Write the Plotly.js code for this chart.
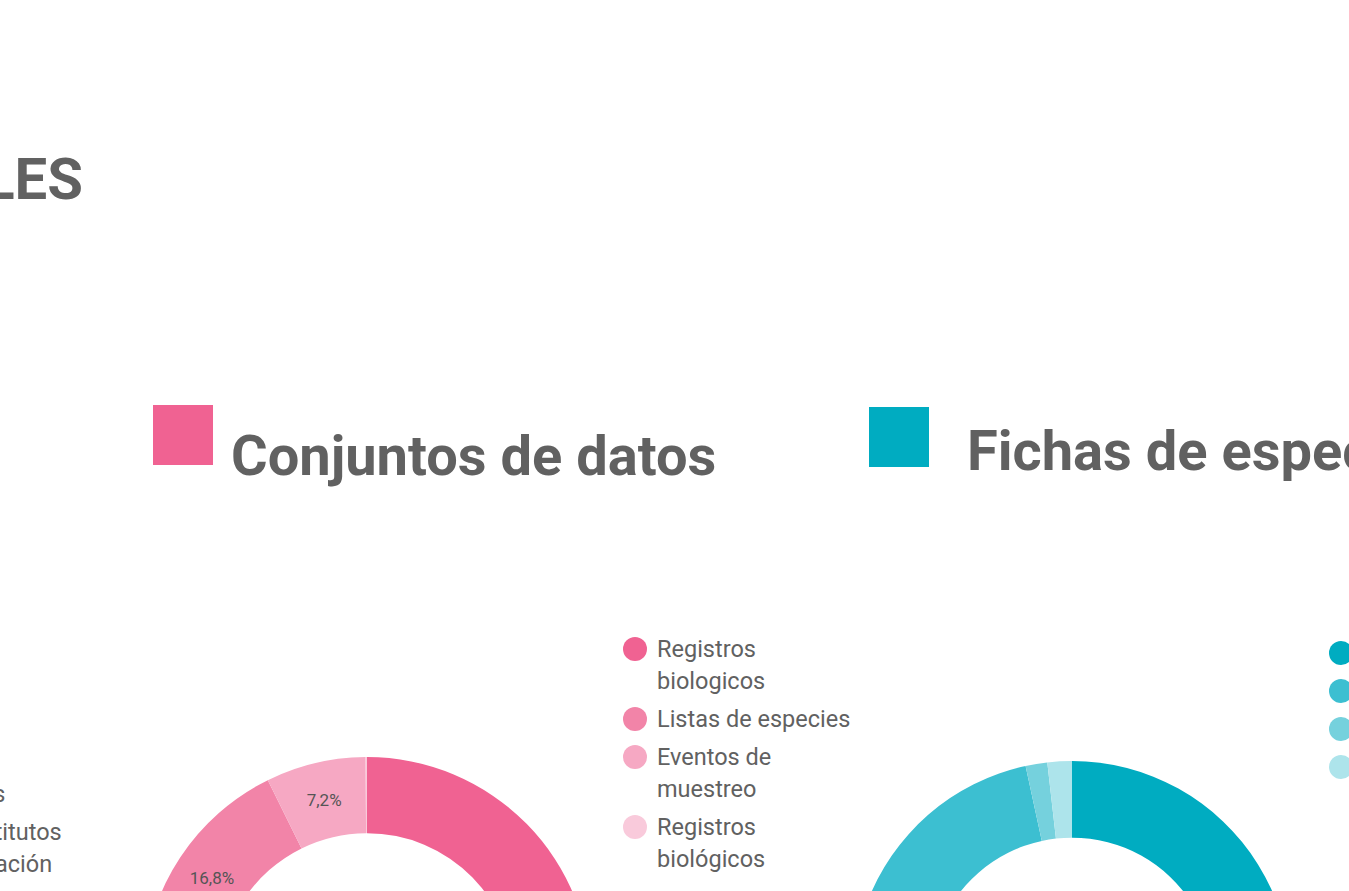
<!DOCTYPE html>
<html>
<head>
<meta charset="utf-8">
<script src="https://cdn.plot.ly/plotly-3.0.1.min.js"></script>
<style>
html,body{margin:0;padding:0;overflow:hidden;background:#ffffff;}
#chart{width:1349px;height:1300px;}
</style>
</head>
<body>
<div id="chart"></div>
<script>
// ---- data ----
const pageTitle = 'CIFRAS NACIONALES';
const sectionTitles = ['Conjuntos de datos', 'Fichas de especies'];
const sectionColors = ['#F06292', '#00ACC1'];

const pinkLabels = ['Registros<br>biologicos', 'Listas de especies', 'Eventos de<br>muestreo', 'Registros<br>biológicos'];
const pinkValues = [75.9, 16.8, 7.2, 0.1];
const pinkColors = ['#F06292', '#F284A8', '#F6A8C3', '#F9CADB'];
const pinkShowText = [true, true, true, false];

const tealLabels = ['Fichas completas', 'Fichas en revisión', 'Fichas en edición', 'Fichas pendientes'];
const tealValues = [64.6, 32.0, 1.6, 1.8];
const tealColors = ['#00ACC1', '#3CBFD1', '#75D1DD', '#ADE4EB'];
const tealShowText = [true, true, false, false];

const prevLabels = ['Universidades', 'Centros e institutos<br>de la investigación'];

// ---- layout helpers ----
const W = 1349, H = 1300;
const px = x => x / W;
const py = y => 1 - y / H;
const GREY = '#616161';
const FONT = 'Roboto, "Noto Sans", sans-serif';

function donut(labels, values, colors, showText, cx, cy, R, hole) {
  return {
    type: 'pie', labels: labels, values: values, sort: false,
    direction: 'clockwise', rotation: 0, hole: hole,
    marker: {colors: colors, line: {width: 0}},
    domain: {x: [px(cx - R), px(cx + R)], y: [py(cy + R), py(cy - R)]},
    texttemplate: showText.map(s => s ? '%{percent:.1%}' : ''),
    textposition: 'inside', insidetextorientation: 'horizontal',
    textfont: {family: FONT, size: 17, color: '#555555'},
    hoverinfo: 'label+percent', showlegend: false
  };
}

const annotations = [];
const shapes = [];

function legend(labels, colors, x, y0) {
  let y = y0;
  labels.forEach((lab, i) => {
    const lines = lab.split('<br>');
    if (colors) {
      shapes.push({type: 'circle', xref: 'paper', yref: 'paper',
        x0: px(x - 12), x1: px(x + 12), y0: py(y + 12), y1: py(y - 12),
        fillcolor: colors[i], line: {width: 0}});
    }
    lines.forEach((ln, k) => {
      annotations.push({xref: 'paper', yref: 'paper', x: px(x + 20), y: py(y + k * 32),
        xanchor: 'left', yanchor: 'middle', showarrow: false, text: ln,
        font: {family: FONT, size: 23.5, color: GREY}});
    });
    y += 32 * (lines.length - 1) + 38;
  });
}

// page title (cut at left edge)
annotations.push({xref: 'paper', yref: 'paper', x: px(85), y: py(179), xanchor: 'right', yanchor: 'middle',
  showarrow: false, text: '<b>' + pageTitle + '</b>', font: {family: FONT, size: 58, color: GREY}});

// section headers
const sq = [[153, 405], [869, 407]];
const ttl = [[229, 456], [965, 451]];
sectionTitles.forEach((t, i) => {
  shapes.push({type: 'rect', xref: 'paper', yref: 'paper', x0: px(sq[i][0]), x1: px(sq[i][0] + 60),
    y0: py(sq[i][1] + 60), y1: py(sq[i][1]), fillcolor: sectionColors[i], line: {width: 0}});
  annotations.push({xref: 'paper', yref: 'paper', x: px(ttl[i][0]), y: py(ttl[i][1]), xanchor: 'left', yanchor: 'middle',
    showarrow: false, text: '<b>' + t + '</b>', font: {family: FONT, size: 56, color: GREY}});
});

// legends
legend(prevLabels, null, -164, 794);
legend(pinkLabels, pinkColors, 635, 649);
legend(tealLabels, tealColors, 1341, 653);

const data = [
  donut(pinkLabels, pinkValues, pinkColors, pinkShowText, 367, 981, 224, 0.66),
  donut(tealLabels, tealValues, tealColors, tealShowText, 1072, 980, 219, 0.65)
];

const layout = {
  width: W, height: H, margin: {l: 0, r: 0, t: 0, b: 0, pad: 0},
  paper_bgcolor: '#ffffff', plot_bgcolor: '#ffffff',
  separators: ',.', showlegend: false,
  uniformtext: {mode: 'show', minsize: 17},
  font: {family: FONT, color: GREY},
  annotations: annotations, shapes: shapes
};

Plotly.newPlot('chart', data, layout, {displayModeBar: false});
</script>
</body>
</html>
